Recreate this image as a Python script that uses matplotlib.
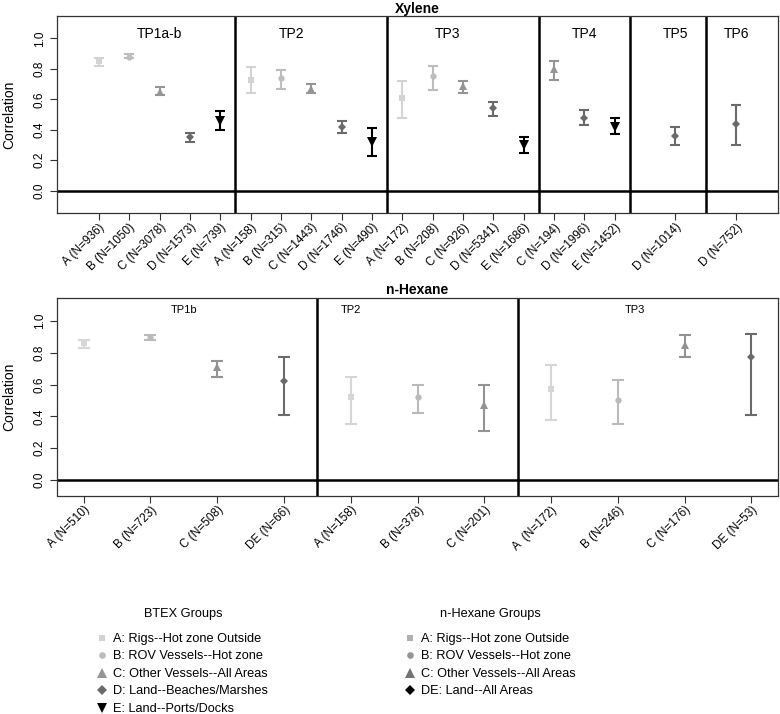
import matplotlib
matplotlib.use("Agg")
import matplotlib.pyplot as plt
from matplotlib.lines import Line2D

plt.rcParams['font.family'] = ['Liberation Sans', 'DejaVu Sans']

# Xylene correlations (point, lower, upper)
xy_labels = ["A (N=936)", "B (N=1050)", "C (N=3078)", "D (N=1573)", "E (N=739)",
             "A (N=158)", "B (N=315)", "C (N=1443)", "D (N=1746)", "E (N=490)",
             "A (N=172)", "B (N=208)", "C (N=926)", "D (N=5341)", "E (N=1686)",
             "C (N=194)", "D (N=1996)", "E (N=1452)",
             "D (N=1014)",
             "D (N=752)"]
xy_group = ["A", "B", "C", "D", "E",
            "A", "B", "C", "D", "E",
            "A", "B", "C", "D", "E",
            "C", "D", "E",
            "D",
            "D"]
xy_r = [0.85, 0.88, 0.65, 0.35, 0.46,
        0.73, 0.74, 0.67, 0.42, 0.32,
        0.61, 0.75, 0.69, 0.54, 0.30,
        0.80, 0.48, 0.42,
        0.36,
        0.44]
xy_lo = [0.82, 0.87, 0.63, 0.32, 0.40,
         0.64, 0.67, 0.64, 0.38, 0.23,
         0.48, 0.66, 0.64, 0.49, 0.25,
         0.73, 0.43, 0.37,
         0.30,
         0.30]
xy_hi = [0.87, 0.90, 0.68, 0.38, 0.52,
         0.81, 0.79, 0.70, 0.46, 0.41,
         0.72, 0.82, 0.72, 0.58, 0.35,
         0.85, 0.53, 0.48,
         0.42,
         0.56]
xy_panels = ["TP1a-b", "TP2", "TP3", "TP4", "TP5", "TP6"]

# n-Hexane correlations
hx_labels = ["A (N=510)", "B (N=723)", "C (N=508)", "DE (N=66)",
             "A (N=158)", "B (N=378)", "C (N=201)",
             "A  (N=172)", "B (N=246)", "C (N=176)", "DE (N=53)"]
hx_group = ["A", "B", "C", "DE",
            "A", "B", "C",
            "A", "B", "C", "DE"]
hx_r = [0.86, 0.90, 0.71, 0.62,
        0.52, 0.52, 0.47,
        0.57, 0.50, 0.85, 0.77]
hx_lo = [0.83, 0.88, 0.65, 0.41,
         0.35, 0.42, 0.31,
         0.38, 0.35, 0.77, 0.41]
hx_hi = [0.88, 0.91, 0.75, 0.77,
         0.65, 0.60, 0.60,
         0.72, 0.63, 0.91, 0.92]
hx_panels = ["TP1b", "TP2", "TP3"]

btex_legend = ["A: Rigs--Hot zone Outside", "B: ROV Vessels--Hot zone",
               "C: Other Vessels--All Areas", "D: Land--Beaches/Marshes",
               "E: Land--Ports/Docks"]
hex_legend = ["A: Rigs--Hot zone Outside", "B: ROV Vessels--Hot zone",
              "C: Other Vessels--All Areas", "DE: Land--All Areas"]

# layout / style
xy_pos = list(range(1, 19)) + [20, 22]
xy_breaks = [5.5, 10.5, 15.5, 18.5, 21]
xy_panel_x = [3, 7.35, 12.5, 17, 20, 22]
hx_pos = list(range(1, 12))
hx_breaks = [4.5, 7.5]
hx_panel_x = [2.5, 5, 9.25]

markers = {"A": "s", "B": "o", "C": "^", "D": "D", "E": "v", "DE": "D"}
msize = {"A": 4.5, "B": 4.5, "C": 6, "D": 4.5, "E": 6.5, "DE": 4.5}
leg_size = {"A": 4.5, "B": 4.8, "C": 6.5, "D": 5, "E": 7.5, "DE": 5}
xy_col = {"A": "#d3d3d3", "B": "#bdbdbd", "C": "#959595", "D": "#6a6a6a", "E": "#000000"}
hx_col = {"A": "#d6d6d6", "B": "#bababa", "C": "#939393", "DE": "#6a6a6a"}
hx_leg_col = {"A": "#b0b0b0", "B": "#959595", "C": "#737373", "DE": "#000000"}

fig = plt.figure(figsize=(7.8, 7.14), dpi=100)
ax1 = fig.add_axes([57 / 780, 1 - 213 / 714, 721 / 780, 197 / 714])
ax2 = fig.add_axes([57 / 780, 1 - 495.5 / 714, 721 / 780, 198 / 714])


def draw_panel(ax, pos, r, lo, hi, grp, labels, cols, breaks, panels, panel_x,
               xlim, ylim, title, panel_fs, cap):
    for x, v, l, h, g in zip(pos, r, lo, hi, grp):
        line, caps, bars = ax.errorbar([x], [v], yerr=[[v - l], [h - v]], fmt=markers[g],
                                       color=cols[g], ecolor=cols[g], ms=msize[g],
                                       elinewidth=1.5, capsize=cap, capthick=1.5, zorder=3)
        line.set_markeredgewidth(0)
    ax.axhline(0, color="black", lw=1.8, zorder=2)
    for b in breaks:
        ax.axvline(b, color="black", lw=1.8, zorder=2)
    for name, px in zip(panels, panel_x):
        ax.text(px, ylim[1] - 0.12 if panel_fs > 9 else ylim[1] - 0.08, name,
                ha="center", va="center", fontsize=panel_fs)
    ax.set_xlim(*xlim)
    ax.set_ylim(*ylim)
    ax.set_xticks(pos)
    ax.set_xticklabels(labels, rotation=45, ha="right", va="top",
                       rotation_mode="anchor", fontsize=8.5)
    ax.set_yticks([0, 0.2, 0.4, 0.6, 0.8, 1.0])
    ax.set_yticklabels(["0.0", "0.2", "0.4", "0.6", "0.8", "1.0"],
                       rotation=90, va="center", fontsize=8.5)
    ax.tick_params(length=5, width=0.8, color="#333333")
    ax.tick_params(axis="x", pad=1)
    ax.tick_params(axis="y", pad=3)
    for s in ax.spines.values():
        s.set_color("#333333")
        s.set_linewidth(0.9)
    ax.set_ylabel("Correlation", fontsize=10, labelpad=12.5)
    ax.set_title(title, fontsize=10, fontweight="bold", pad=2)


draw_panel(ax1, xy_pos, xy_r, xy_lo, xy_hi, xy_group, xy_labels, xy_col,
           xy_breaks, xy_panels, xy_panel_x, (-0.38, 23.38), (-0.148, 1.148),
           "Xylene", 10, 3.8)
draw_panel(ax2, hx_pos, hx_r, hx_lo, hx_hi, hx_group, hx_labels, hx_col,
           hx_breaks, hx_panels, hx_panel_x, (0.6, 11.4), (-0.096, 1.146),
           "n-Hexane", 8, 4.5)

# legends
h1 = [Line2D([], [], ls="none", marker=markers[g], color=xy_col[g],
             ms=leg_size[g], mew=0) for g in ["A", "B", "C", "D", "E"]]
h2 = [Line2D([], [], ls="none", marker=markers[g], color=hx_leg_col[g],
             ms=leg_size[g], mew=0) for g in ["A", "B", "C", "DE"]]
fig.text(183 / 780, 1 - 614 / 714, "BTEX Groups", ha="center", va="center", fontsize=9.2)
fig.text(490 / 780, 1 - 614 / 714, "n-Hexane Groups", ha="center", va="center", fontsize=9.2)
fig.legend(h1, btex_legend, loc="upper left", bbox_to_anchor=(97 / 780, 1 - 633 / 714),
           frameon=False, fontsize=9.2, handlelength=0.8, handletextpad=0.45,
           labelspacing=0.43, borderpad=0, borderaxespad=0)
fig.legend(h2, hex_legend, loc="upper left", bbox_to_anchor=(405 / 780, 1 - 633 / 714),
           frameon=False, fontsize=9.2, handlelength=0.8, handletextpad=0.45,
           labelspacing=0.43, borderpad=0, borderaxespad=0)

fig.savefig("out.png", dpi=100)
